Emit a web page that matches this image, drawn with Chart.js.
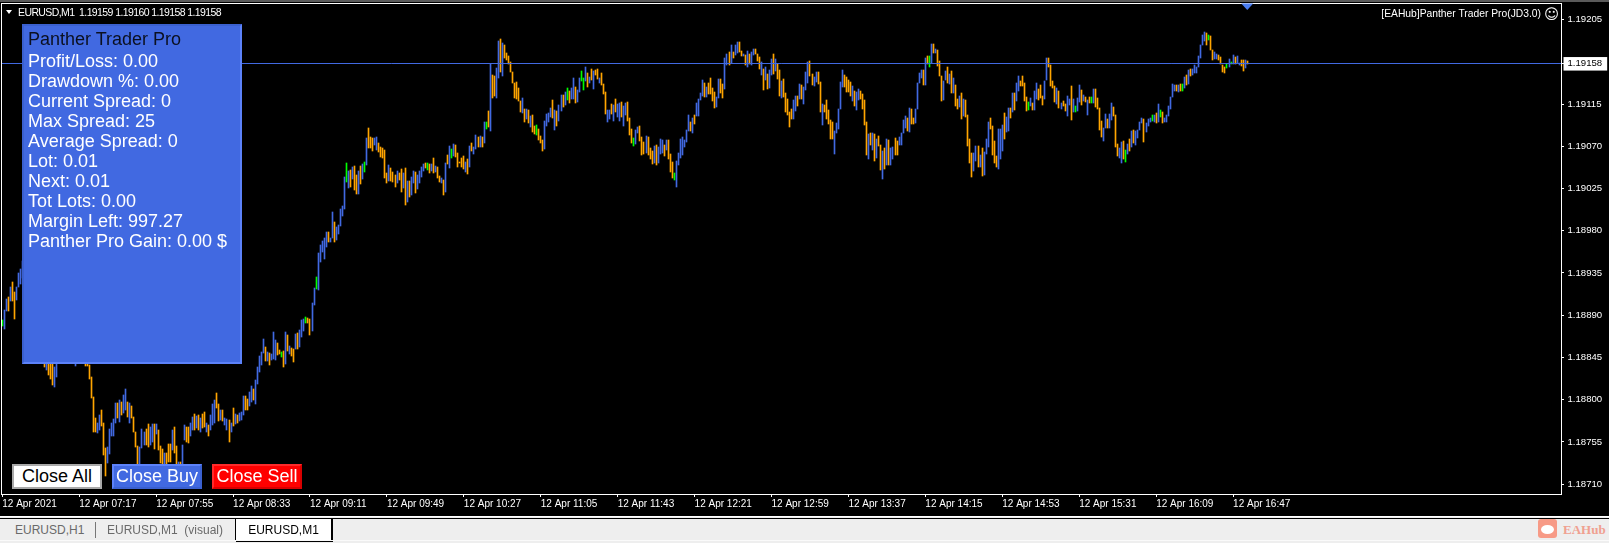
<!DOCTYPE html>
<html>
<head>
<meta charset="utf-8">
<title>EURUSD,M1</title>
<script src="https://cdn.jsdelivr.net/npm/chart.js@4/dist/chart.umd.min.js"></script>
<style>
html, body { margin: 0; padding: 0; background: #000; overflow: hidden; width: 1609px; height: 543px; font-family: "Liberation Sans", Arial, sans-serif; }
#chartCanvas { position: absolute; left: 0; top: 0; }
.topEdge { position: absolute; left: 0; top: 0; width: 1609px; height: 2px; background: #5a5a5a; }
.headerText { position: absolute; left: 18px; top: 6px; color: #fff; font-size: 10.5px; line-height: 13px; letter-spacing: -0.6px; white-space: pre; }
.headerArrow { position: absolute; left: 6px; top: 10px; width: 0; height: 0; border-left: 3.5px solid transparent; border-right: 3.5px solid transparent; border-top: 4px solid #fff; }
.expertText { position: absolute; right: 68px; top: 7px; color: #fff; font-size: 10.3px; line-height: 13px; white-space: pre; }
.smile { position: absolute; left: 1544px; top: 4px; color: #fff; font: 14.5px/20px "DejaVu Sans"; }
#panel { position: absolute; left: 22px; top: 24px; width: 216px; height: 336px; background: #4169e1; border: 2px solid; border-color: #3a60cf #5c82fa #5c82fa #3a60cf; }
#panel div { position: absolute; left: 4px; font-size: 18px; line-height: 20px; color: #fff; white-space: pre; }
#panel div.title { color: #0b1020; }
.btn { position: absolute; top: 464px; width: 86px; height: 21px; border: 2px solid; font-size: 18px; line-height: 21px; text-align: center; }
#closeAll { left: 12px; background: #fff; color: #000; border-color: #a9a9a9; }
#closeBuy { left: 112px; background: #4169e1; color: #fff; border-color: #5c82fa #3a60cf #3a60cf #5c82fa; }
#closeSell { left: 212px; background: #f00; color: #fff; border-color: #ff2a2a #d80000 #d80000 #ff2a2a; }
#tabBar { position: absolute; left: 0; top: 516px; width: 1609px; height: 27px; background: #eee; border-top: 1px solid #fff; box-sizing: border-box; }
#tabBar::before { content: ""; position: absolute; left: 0; top: 1px; width: 1609px; height: 1px; background: #000; }
#tabBar::after { content: ""; position: absolute; left: 0; top: 23px; width: 1609px; height: 1px; background: #fafafa; }
.tab { position: absolute; top: 5px; font-size: 12px; line-height: 16px; color: #6a6a6a; white-space: pre; }
.tabSep { position: absolute; left: 95px; top: 5px; width: 1px; height: 16px; background: #777; }
.tabActive { position: absolute; left: 235px; top: 1px; width: 95px; height: 21px; background: #fff; border: 1px solid #000; box-sizing: content-box; color: #000; font-size: 12px; line-height: 22px; text-align: center; box-shadow: 1px 1px 0 #000; }
.logoBox { position: absolute; left: 1538px; top: 2px; width: 19px; height: 19px; border-radius: 3px; background: #f79a86; }
.logoFace { position: absolute; left: 3px; top: 6px; width: 13px; height: 9px; border-radius: 50%; background: #fff; }
.logoText { position: absolute; left: 1563px; top: 4px; font: bold 13px/18px "Liberation Serif", serif; color: #f0a090; }
</style>
</head>
<body>
<canvas id="chartCanvas" width="1609" height="516"></canvas>
<div class="topEdge"></div>
<div class="headerArrow"></div>
<div class="headerText" id="headerText"></div>
<div class="expertText" id="expertText"></div>
<div class="smile">&#9786;</div>
<div id="panel"></div>
<div class="btn" id="closeAll">Close All</div>
<div class="btn" id="closeBuy">Close Buy</div>
<div class="btn" id="closeSell">Close Sell</div>
<div id="tabBar">
  <div class="tab" style="left:15px">EURUSD,H1</div>
  <div class="tabSep"></div>
  <div class="tab" style="left:107px">EURUSD,M1  (visual)</div>
  <div class="tabActive">EURUSD,M1</div>
  <div class="logoBox"><div class="logoFace"></div></div>
  <div class="logoText">EAHub</div>
</div>
<script>
// --- CHART DATA (points above 1.18000, one entry per M1 bar) ---

const BASE_PRICE = 1.18;
const POINT = 0.00001;

const barHighs = [
  885,896,907,909,920,925,915,920,935,939,
  948,950,945,930,912,905,892,878,870,872,
  860,852,848,842,840,838,835,845,870,875,
  868,872,865,866,860,862,858,860,862,858,
  854,852,850,837,824,803,780,775,784,789,
  775,748,750,769,775,779,796,796,800,798,
  805,811,797,796,793,781,766,751,750,769,
  766,769,774,771,774,774,774,768,751,747,
  743,743,753,753,768,771,751,734,734,752,
  773,771,771,775,781,785,783,784,780,785,
  787,775,773,784,795,800,807,795,789,789,
  780,779,778,775,791,785,784,786,787,804,804,
  801,808,815,811,821,
  835,846,851,865,856,851,850,849,872,864,
  860,853,851,852,872,869,857,855,854,870,
  871,874,885,886,888,887,886,903,919,931,
  956,965,969,972,979,979,972,1000,989,984,986,
  1003,1006,1037,1052,1044,1045,1048,1049,1040,1044,
  1049,1051,1053,1079,1090,1080,1079,1079,1080,1074,
  1069,1068,1066,1042,1050,1047,1043,1040,1044,1042,
  1046,1042,1047,1033,1033,1037,1044,1043,1040,1044,
  1048,1051,1052,1052,1051,1051,1058,1049,1048,1038,
  1036,1034,1052,1061,1070,1067,1073,1071,1063,1053,
  1058,1060,1053,1057,1070,1074,1069,1082,1080,1081,
  1080,1096,1096,1108,1158,1146,1145,1154,1182,1184,
  1180,1178,1170,1166,1160,1149,1138,1139,1132,1118,
  1122,1110,1110,1109,1102,1103,1092,1093,1089,1081,
  1077,1097,1105,1106,1111,1119,1109,1108,1114,
  1125,1125,1128,1132,1129,1132,1143,1133,1130,1143,
  1150,1143,1155,1148,1144,1152,1150,1151,1153,1143,
  1148,1136,1128,1109,1109,1115,1114,1121,1115,1116,
  1117,1113,1116,1117,1100,1089,1079,1087,1091,1092,
  1080,1075,1081,1080,1068,1065,1070,1071,1069,1078,
  1077,1071,1077,1077,1062,1053,1042,1054,1063,1078,
  1080,1077,1087,1103,1096,1100,1103,1116,1120,1127,
  1141,1138,1133,1138,1143,1132,1128,1123,1142,1142,
  1136,1164,1168,1171,1178,1171,1178,1181,1181,1172,
  1168,1167,1172,1168,1171,1174,1174,1168,1165,1160,
  1153,1155,1147,1151,1163,1168,1163,1158,1151,1140,
  1142,1127,1120,1107,1110,1119,1124,1124,1136,1135,
  1133,1149,1160,1161,1147,1144,1149,1149,1139,1115,
  1114,1119,1109,1098,1096,1086,1095,1110,1139,1151,
  1146,1144,1141,1139,1134,1129,1128,1131,1129,1126,
  1119,1096,1083,1084,1084,1083,1078,1081,1071,
  1065,1068,1078,1077,1068,1069,1079,1076,1080,1084,
  1098,1102,1100,1111,
  1110,1100,1110,1138,1148,1151,1151,1164,1166,1166,
  1179,1179,1174,1173,1161,1145,1140,1150,1155,1147,
  1150,1143,1135,1121,1124,1127,1121,1119,1103,1078,
  1063,1063,1070,1070,1061,1068,1064,1078,1096,1100,1092,
  1076,1060,1088,1088,1093,1106,1101,1111,1111,1127,
  1127,1138,1145,1140,1145,1138,1123,1117,1122,1116,
  1129,1138,1131,1135,1124,1140,1164,1164,1157,1140,
  1134,1132,1129,1116,1118,1115,1124,1120,1134,1120,
  1113,1122,1135,1130,1125,1123,1119,1123,1123,1131,
  1131,1122,1111,1097,1090,1105,1099,1104,1116,1112,
  1103,1073,1068,1075,1076,1066,1072,1078,1086,1087,
  1086,1087,1096,1100,1099,1095,1099,1100,1103,1103,
  1106,1115,1109,1107,1100,1103,1113,1123,1136,1135,
  1135,1135,1136,1136,1144,1146,1151,1152,1153,1157,
  1155,1166,1178,1189,1192,1191,1189,1188,1173,1171,
  1168,1167,1165,1157,1155,1158,1163,
  1160,1167,1165,1166,1159,1162,1162,1162,1161
];

const barLows = [
  878,875,894,895,905,905,886,906,920,923,
  930,925,922,905,895,885,870,860,850,848,
  840,835,832,826,822,816,813,824,845,850,
  848,850,845,845,842,842,836,842,845,842,
  840,836,836,822,802,765,765,764,768,772,
  741,719,732,742,761,761,775,780,776,784,
  786,789,781,775,780,765,750,728,726,748,
  752,752,750,752,755,747,763,746,732,729,
  726,728,734,734,746,743,722,720,722,720,
  757,755,754,761,768,768,770,768,766,770,
  771,766,761,768,773,775,791,777,778,777,
  773,768,755,766,772,774,775,777,778,784,789,
  789,793,798,800,795,
  817,829,837,850,841,841,837,842,843,842,
  848,849,845,835,838,852,849,846,840,854,
  854,856,867,873,882,882,869,873,901,918,
  917,947,957,950,963,968,968,972,968,970,977,
  985,996,1003,1032,1026,1027,1035,1024,1019,1019,
  1030,1035,1043,1050,1068,1068,1065,1071,1066,1064,
  1059,1058,1036,1031,1033,1033,1032,1027,1031,1034,
  1021,1026,1008,1011,1016,1018,1031,1020,1025,1031,
  1037,1044,1047,1045,1042,1044,1042,1043,1036,1032,
  1031,1018,1021,1051,1047,1058,1060,1059,1048,1052,
  1048,1046,1043,1041,1048,1065,1062,1067,1069,1069,
  1069,1074,1089,1091,1086,1122,1124,1122,1143,1149,
  1145,1164,1162,1158,1149,1138,1122,1120,1118,1107,
  1106,1096,1099,1095,1091,1085,1083,1082,1077,1074,
  1065,1067,1092,1096,1101,1100,1087,1092,1097,
  1108,1112,1114,1119,1116,1120,1120,1116,1117,1128,
  1140,1130,1140,1133,1138,1141,1131,1146,1142,1138,
  1135,1126,1105,1096,1099,1105,1097,1107,1101,1097,
  1101,1092,1103,1097,1082,1074,1070,1073,1084,1076,
  1061,1062,1063,1061,1056,1051,1052,1050,1052,1062,
  1063,1060,1066,1057,1043,1036,1034,1027,1050,1058,
  1061,1069,1075,1086,1086,1084,1094,1102,1102,1119,
  1124,1123,1123,1126,1126,1118,1111,1112,1122,1127,
  1122,1131,1157,1157,1159,1164,1167,1169,1171,1166,
  1166,1157,1155,1158,1157,1167,1168,1161,1152,1146,
  1130,1141,1131,1132,1146,1147,1150,1142,1124,1122,
  1123,1107,1103,1091,1099,1099,1108,1113,1120,1120,
  1115,1130,1138,1145,1135,1134,1139,1136,1107,1093,
  1107,1099,1094,1078,1078,1062,1084,1089,1110,1133,
  1133,1128,1128,1124,1118,1113,1109,1119,1120,1110,
  1093,1061,1057,1071,1066,1054,1058,1070,1045,
  1035,1046,1050,1050,1050,1056,1061,1061,1071,1071,
  1084,1090,1086,1085,
  1094,1094,1095,1110,1138,1143,1135,1135,1158,1155,
  1159,1170,1169,1156,1145,1118,1119,1141,1138,1137,
  1127,1127,1113,1110,1112,1099,1102,1101,1070,1052,
  1037,1044,1054,1048,1048,1038,1040,1062,1069,1089,1061,
  1052,1048,1046,1056,1065,1078,1085,1086,1100,1107,
  1109,1118,1129,1134,1134,1118,1108,1109,1113,1109,
  1109,1121,1119,1122,1114,1121,1141,1155,1134,1132,
  1117,1115,1111,1110,1113,1108,1102,1114,1098,1107,
  1107,1108,1117,1114,1118,1117,1103,1116,1116,1116,
  1112,1110,1087,1080,1076,1090,1090,1090,1098,1102,
  1069,1060,1058,1052,1056,1053,1062,1065,1069,1074,
  1071,1079,1087,1095,1075,1085,1092,1096,1097,1096,
  1095,1096,1101,1095,1096,1096,1102,1110,1123,1129,
  1129,1128,1129,1129,1132,1135,1136,1145,1146,1148,
  1148,1155,1164,1178,1182,1178,1183,1173,1162,1163,
  1163,1162,1158,1149,1148,1154,1155,
  1158,1158,1158,1159,1157,1156,1150,1154,1158
];

// b = rising bar, o = falling bar, g = flat open/close bar
const barKinds = [
  "gbboboobbb","bobooboobb","oobooobbbb","oboboobobo","ooooooobbo","oobbbbbobo","bboboooobb",
  "boobbobooo","boooboobob","boobbobobo","obobbboobo","bbobobobbbo","obbob",
  "bbbbobobbb","oogoboboob","obbbgoobbg","bbbbbobbobb","bbbgboboob","obgbooobbo","oooobooobo",
  "obobobbobb","bbogoboboo","bobobgbooo","oobobobbob","obgoboobbo","booooooooo","boboboogoo","obbbbobob",
  "bobgobbobb","ggboboboob","ooobbobobb","obbooogbbo","oobooobobb","bobooogbbb","bbbbobobbb",
  "boboooobbo","obbobobboo","bobobbooob","obobboboob","ooooobbobo","bbboobboob","ooooobbbbb",
  "oooobobboo","ooboboboo","bobobboobb","bbob",
  "oobbbbobog","bobooobbob","oboobobooo","obbobobbboo","oobbbobbob","obboooogbo","bbooobbooo",
  "oboboobbob","gbbobobogb","oooobbobbo","oobbogbobo","bbbbobbbgb","obgobbbbbb","obogbobobb",
  "bbbbbogoob","boooogb",
  "gbobboobo"
].join("");

const priceTicks = [1.18710, 1.18755, 1.18800, 1.18845, 1.18890, 1.18935, 1.18980, 1.19025, 1.19070, 1.19115, 1.19158, 1.19205];
const currentPrice = 1.19158;
const yMin = 1.186994;
const yMax = 1.192223;

const firstBarMinute = 6 * 60 + 39; // 06:39
const tickEvery = 38;
const slotCount = 771; // bars plus the empty space to the right
const dateLabel = "12 Apr 2021";
const dayLabel = "12 Apr";

const panelTitle = "Panther Trader Pro";
const panelRows = [
  "Profit/Loss: 0.00", "Drawdown %: 0.00", "Current Spread: 0", "Max Spread: 25", "Average Spread: 0",
  "Lot: 0.01", "Next: 0.01", "Tot Lots: 0.00", "Margin Left: 997.27", "Panther Pro Gain: 0.00 $"
];

const KIND_COLORS = { b: "#4169e1", o: "#ffa500", g: "#00ff00" };
const FONT_FAMILY = "'Liberation Sans', Arial, sans-serif";

// --- PAGE TEXT ---

document.getElementById('headerText').textContent = "EURUSD,M1  1.19159 1.19160 1.19158 1.19158";
document.getElementById('expertText').textContent = "[EAHub]Panther Trader Pro(JD3.0)";

const panel = document.getElementById('panel');
function addPanelLine(text, top, cls) {
    const el = document.createElement('div');
    el.textContent = text;
    el.style.top = top + 'px';
    if (cls) el.className = cls;
    panel.appendChild(el);
}
addPanelLine(panelTitle, 3, 'title');
panelRows.forEach((row, i) => addPanelLine(row, 25 + i * 20));

// --- CHART ---

function pad2(n) {
    return String(n).padStart(2, '0');
}

const categories = [];
for (let i = 0; i < slotCount; i++) {
    const m = firstBarMinute + i;
    categories.push(i === 0 ? dateLabel : `${dayLabel} ${pad2(Math.floor(m / 60))}:${pad2(m % 60)}`);
}

// snap the thin bars to whole pixels so they stay crisp, like the terminal draws them
const crispBarsPlugin = {
    id: 'crispBars',
    afterDatasetsUpdate(chart) {
        chart.getDatasetMeta(0).data.forEach(el => {
            el.x = Math.floor(el.x) + 0.5;
            el.width = 1;
            el.y = Math.round(el.y);
            el.base = Math.round(el.base);
        });
    }
};

// current price line, chart frame and the shift marker at the top
const overlayPlugin = {
    id: 'overlay',
    afterDatasetsDraw(chart) {
        const { ctx, chartArea, scales } = chart;
        const y = Math.floor(scales.y.getPixelForValue(currentPrice)) + 0.5;
        ctx.save();
        ctx.strokeStyle = '#4169e1';
        ctx.lineWidth = 1;
        ctx.beginPath();
        ctx.moveTo(chartArea.left - 1, y);
        ctx.lineTo(chartArea.right, y);
        ctx.stroke();

        ctx.strokeStyle = '#fff';
        ctx.strokeRect(1.5, 3.5, chartArea.right - 1, chartArea.bottom - 3);

        const markX = scales.x.getPixelForValue(barHighs.length - 1);
        ctx.fillStyle = '#4a7df0';
        ctx.beginPath();
        ctx.moveTo(markX - 6, 3.5);
        ctx.lineTo(markX + 6, 3.5);
        ctx.lineTo(markX, 10);
        ctx.closePath();
        ctx.fill();
        ctx.restore();
    }
};

// the axes keep their fixed sizes and ask for no extra margin around the plot
function fixScaleSize(scale, size) {
    if (scale.isHorizontal()) scale.height = size; else scale.width = size;
    scale.paddingTop = 0;
    scale.paddingBottom = 0;
    scale.paddingLeft = 0;
    scale.paddingRight = 0;
}

new Chart(document.getElementById('chartCanvas'), {
    type: 'bar',
    data: {
        labels: categories,
        datasets: [{
            data: barHighs.map((h, i) => [BASE_PRICE + barLows[i] * POINT, BASE_PRICE + h * POINT]),
            backgroundColor: barHighs.map((h, i) => KIND_COLORS[barKinds[i]]),
            barThickness: 1,
            borderWidth: 0,
            clip: false
        }]
    },
    options: {
        responsive: false,
        animation: false,
        devicePixelRatio: 1,
        layout: { padding: { left: 2.3, top: 3.5 } },
        plugins: { legend: { display: false }, tooltip: { enabled: false } },
        scales: {
            x: {
                offset: false,
                grid: { drawOnChartArea: false, color: '#fff', tickLength: 3, offset: false },
                border: { color: '#fff' },
                afterBuildTicks: (scale) => {
                    scale.ticks = scale.ticks.filter(t => t.value % tickEvery === 0 && t.value < barHighs.length);
                },
                afterFit: (scale) => fixScaleSize(scale, 22),
                ticks: {
                    autoSkip: false,
                    maxRotation: 0,
                    minRotation: 0,
                    align: 'start',
                    padding: 1,
                    color: '#fff',
                    font: { family: FONT_FAMILY, size: 10 },
                    callback: function (value) { return this.getLabelForValue(value); }
                }
            },
            y: {
                position: 'right',
                min: yMin,
                max: yMax,
                grid: { drawOnChartArea: false, color: '#fff', tickLength: 3 },
                border: { color: '#fff' },
                afterBuildTicks: (scale) => {
                    scale.ticks = priceTicks.map(v => ({ value: v }));
                },
                afterFit: (scale) => fixScaleSize(scale, 48),
                ticks: {
                    autoSkip: false,
                    padding: 3.5,
                    color: (c) => c.tick && c.tick.value === currentPrice ? '#000' : '#fff',
                    showLabelBackdrop: (c) => c.tick && c.tick.value === currentPrice,
                    backdropColor: '#fff',
                    backdropPadding: { left: 4, right: 5, top: 1, bottom: 1 },
                    font: { family: FONT_FAMILY, size: 9.6 },
                    callback: (v) => Number(v).toFixed(5)
                }
            }
        }
    },
    plugins: [crispBarsPlugin, overlayPlugin]
});
</script>
</body>
</html>
